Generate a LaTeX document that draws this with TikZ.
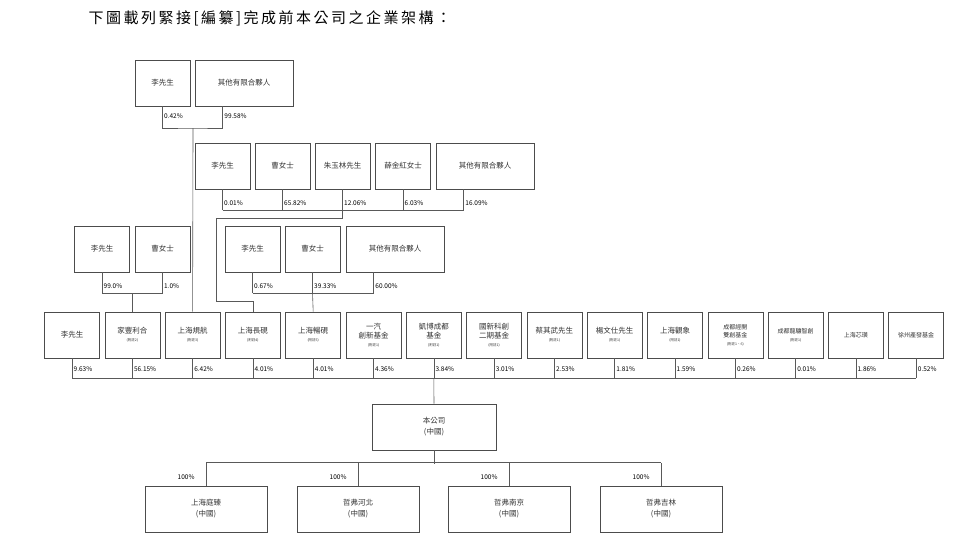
\documentclass[tikz,border=0pt]{standalone}
\usepackage{fontspec}
\setmainfont{Noto Sans CJK TC}
\usepackage{tikz}
\usetikzlibrary{positioning}

\tikzset{
  box/.style={draw=black!70, line width=0.6pt, minimum height=46pt, align=center,
    font=\fontsize{7.5}{9}\selectfont, text=black!80, inner sep=0pt},
  pct/.style={font=\fontsize{6.5}{8}\selectfont, anchor=west, inner sep=1.5pt},
  ln/.style={draw=black!65, line width=0.6pt}
}
\newcommand{\fnote}[1]{\\[-1pt]{\fontsize{3.5}{4}\selectfont\itshape (#1)}}

\begin{document}
\begin{tikzpicture}[x=1pt,y=-1pt]
          \useasboundingbox (0,0) rectangle (960,550);
          \node[anchor=west, font=\fontsize{15}{17}\selectfont] (title) at (85,18)
            {下\,圖\,載\,列\,緊\,接\,[\,編\,纂\,]\,完\,成\,前\,本\,公\,司\,之\,企\,業\,架\,構\,：};

          % top group
          \node[box, minimum width=55pt] (a1) at (162.5,83) {李先生};
          \node[box, minimum width=98pt] (a2) at (244,83) {其他有限合夥人};

          % second group
          \node[box, minimum width=55pt] (b1) at (222.5,166) {李先生};
          \node[box, minimum width=55pt] (b2) at (282.5,166) {曹女士};
          \node[box, minimum width=55pt] (b3) at (342.5,166) {朱玉林先生};
          \node[box, minimum width=55pt] (b4) at (403,166) {薛金紅女士};
          \node[box, minimum width=98pt] (b5) at (485,166) {其他有限合夥人};

          % third groups
          \node[box, minimum width=55pt] (c1) at (102,249) {李先生};
          \node[box, minimum width=55pt] (c2) at (162.5,249) {曹女士};
          \node[box, minimum width=55pt] (d1) at (252.5,249) {李先生};
          \node[box, minimum width=55pt] (d2) at (312.5,249) {曹女士};
          \node[box, minimum width=98pt] (d3) at (395,249) {其他有限合夥人};

          % feet of the wide boxes
          \coordinate (a2f) at ([xshift=28pt]a2.south west);
          \coordinate (b5f) at ([xshift=28pt]b5.south west);
          \coordinate (d3f) at ([xshift=28pt]d3.south west);

          % shareholders
          \foreach \i/\txt/\p in {1/李先生/9.63\%,
              2/{家豐利合\fnote{附註2}}/56.15\%,
              3/{上海規航\fnote{附註3}}/6.42\%,
              4/{上海長硯\fnote{附註4}}/4.01\%,
              5/{上海暢硯\fnote{附註5}}/4.01\%,
              6/{一汽\\創新基金\fnote{附註1}}/4.36\%,
              7/{凱博成都\\基金\fnote{附註1}}/3.84\%,
              8/{國新科創\\二期基金\fnote{附註1}}/3.01\%,
              9/{蔡其武先生\fnote{附註1}}/2.53\%,
              10/{楊文仕先生\fnote{附註1}}/1.81\%,
              11/{上海觀象\fnote{附註1}}/1.59\%,
              12/{\fontsize{6}{8}\selectfont 成都經開\\\fontsize{6}{8}\selectfont 雙創基金\fnote{附註1、6}}/0.26\%,
              13/{\fontsize{6}{8}\selectfont 成都龍驤智創\fnote{附註1}}/0.01\%,
              14/{\fontsize{6}{8}\selectfont 上海芯璜}/1.86\%,
              15/{\fontsize{6}{8}\selectfont 徐州產發基金}/0.52\%} {
            \node[box, minimum width=55pt, text width=53pt] (s\i) at ({72+60.3*(\i-1)},335) {\txt};
            \coordinate (t\i) at ({72+60.3*(\i-1)},378);
            \draw[ln] (s\i.south) -- (t\i);
            \node[pct] at ({72+60.3*(\i-1)},369) {\p};
          }
          \draw[ln] (t1) -- (t15);

          % top group lines
          \coordinate (ja) at (193,128);
          \draw[ln] (a1.south) |- (ja) -| (a2f);
          \draw[ln] (ja) -- (s3.north);
          \node[pct] at (a1.south |- 0,116) {0.42\%};
          \node[pct] at (a2f |- 0,116) {99.58\%};

          % second group lines
          \foreach \b/\p in {b1.south/0.01\%, b2.south/65.82\%, b3.south/12.06\%, b4.south/6.03\%, b5f/16.09\%} {
            \draw[ln] (\b) -- (\b |- 0,210);
            \node[pct] at (\b |- 0,203) {\p};
          }
          \draw[ln] (b1.south |- 0,210) -- (b5f |- 0,210);
          \coordinate (jb) at (216,218);
          \draw[ln] (b3.south |- 0,210) |- (jb) -- (216,301) -| (s4.north);

          % third group lines
          \foreach \c/\p in {c1.south/99.0\%, c2.south/1.0\%, d1.south/0.67\%, d2.south/39.33\%, d3f/60.00\%} {
            \draw[ln] (\c) -- (\c |- 0,293);
            \node[pct] at (\c |- 0,286) {\p};
          }
          \draw[ln] (c1.south |- 0,293) -- (c2.south |- 0,293);
          \draw[ln] (d1.south |- 0,293) -- (d3f |- 0,293);
          \draw[ln] (s2.north |- 0,293) -- (s2.north);
          \draw[ln] (d2.south |- 0,293) -- (s5.north);

          % company
          \node[box, minimum width=124pt, font=\fontsize{7.5}{11}\selectfont] (co) at (434,427)
            {本公司\\{\itshape (中國)}};
          \draw[ln] (t7) -- (co.north);
          \coordinate (jc) at (434,464);
          \draw[ln] (co.south) -- (jc);
          \foreach \k/\txt/\x in {1/上海庭臻/206, 2/哲弗河北/358, 3/哲弗南京/509, 4/哲弗吉林/661} {
            \node[box, minimum width=122pt, font=\fontsize{7.5}{11}\selectfont] (z\k) at (\x,509)
              {\txt\\{\itshape (中國)}};
            \draw[ln] (z\k.north) -- ++(0,-23) coordinate (u\k);
            \node[pct] at (\x-30,477) {100\%};
          }
          \draw[ln] (u1) -- (u4);
        \end{tikzpicture}
\end{document}
